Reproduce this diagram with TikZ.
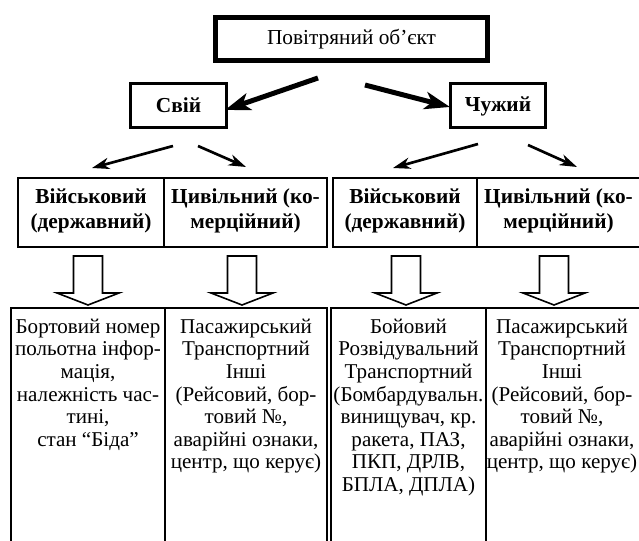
\documentclass[tikz,border=0pt]{standalone}
\usepackage{fontspec}
\setmainfont{Liberation Serif}
\usetikzlibrary{arrows.meta}
\begin{document}
\begin{tikzpicture}[x=0.75pt,y=-0.75pt,
  every node/.style={inner sep=0pt, outer sep=0pt},
  mainbox/.style={draw, line width=3.75pt, minimum width=204pt, minimum height=32.25pt, font=\fontsize{16}{19}\selectfont},
  sidebox/.style={draw, line width=2.25pt, minimum height=33pt, font=\bfseries\fontsize{16}{19}\selectfont},
  catcell/.style={draw, line width=1.6pt, minimum height=51.75pt},
  cattext/.style={align=center, font=\bfseries\fontsize{16}{18.7}\selectfont},
  infocell/.style={draw, line width=1.6pt, minimum height=189pt},
  infotext/.style={align=center, anchor=north, font=\fontsize{15.8}{16.9}\selectfont},
  bigarrow/.style={line width=3.75pt, -{Stealth[length=19pt,width=13pt,inset=5pt]}},
  smallarrow/.style={line width=2pt, -{Stealth[length=13pt,width=8.5pt,inset=4pt]}},
  hollow/.style={draw, line width=1.2pt, line join=miter}
]
\useasboundingbox (0,0) rectangle (639,541);

% top level
\node[mainbox] (obj) at (351.5,39) {Повітряний об’єкт};
\node[sidebox, minimum width=72pt] (own) at (178.5,105.5) {Свій};
\node[sidebox, minimum width=71.25pt] (foe) at (498,106) {Чужий};

% thick arrows
\coordinate (a1s) at (318,78);  \coordinate (a1e) at (225,110);
\coordinate (a2s) at (365,85);  \coordinate (a2e) at (450,107);
\draw[bigarrow] (a1s) -- (a1e);
\draw[bigarrow] (a2s) -- (a2e);

% small arrows
\coordinate (b1s) at (173,146); \coordinate (b1e) at (92,168);
\coordinate (b2s) at (198,146); \coordinate (b2e) at (246,167);
\coordinate (b3s) at (478,144); \coordinate (b3e) at (393,168);
\coordinate (b4s) at (528,145); \coordinate (b4e) at (577,167);
\draw[smallarrow] (b1s) -- (b1e);
\draw[smallarrow] (b2s) -- (b2e);
\draw[smallarrow] (b3s) -- (b3e);
\draw[smallarrow] (b4s) -- (b4e);

% category cells
\node[catcell, minimum width=109.5pt] (c1) at (91,212.5) {};
\node[catcell, minimum width=122.25pt] (c2) at (245.5,212.5) {};
\node[catcell, minimum width=108pt] (c3) at (405,212.5) {};
\node[catcell, minimum width=122.25pt] (c4) at (558.5,212.5) {};
\node[cattext] (t1) at (91,211) {Військовий\\(державний)};
\node[cattext] (t2) at (245.5,211) {Цивільний (ко-\\мерційний)};
\node[cattext] (t3) at (405,211) {Військовий\\(державний)};
\node[cattext] (t4) at (558.5,211) {Цивільний (ко-\\мерційний)};

% info cells
\node[infocell, minimum width=115.5pt] (d1) at (88,434) {};
\node[infocell, minimum width=121.5pt] (d2) at (246,434) {};
\node[infocell, minimum width=116.25pt] (d3) at (408.5,434) {};
\node[infocell, minimum width=116.25pt] (d4) at (563.5,434) {};

\node[infotext] (e1) at (88,319) {Бортовий номер\\польотна інфор-\\мація,\\належність час-\\тині,\\стан “Біда”};
\node[infotext] (e2) at (246,319) {Пасажирський\\Транспортний\\Інші\\(Рейсовий, бор-\\товий №,\\аварійні ознаки,\\центр, що керує)};
\node[infotext] (e3) at (408.5,319) {Бойовий\\Розвідувальний\\Транспортний\\(Бомбардувальн.\\винищувач, кр.\\ракета, ПАЗ,\\ПКП, ДРЛВ,\\БПЛА, ДПЛА)};
\node[infotext] (e4) at (562,319) {Пасажирський\\Транспортний\\Інші\\(Рейсовий, бор-\\товий №,\\аварійні ознаки,\\центр, що керує)};

% hollow arrows
\foreach \c in {88,242,406,554} {
  \draw[hollow] ({\c-14.5},256) -- ({\c+14.5},256) -- ({\c+14.5},293) -- ({\c+31},293)
     -- (\c,305) -- ({\c-31},293) -- ({\c-14.5},293) -- cycle;
}
\end{tikzpicture}
\end{document}
